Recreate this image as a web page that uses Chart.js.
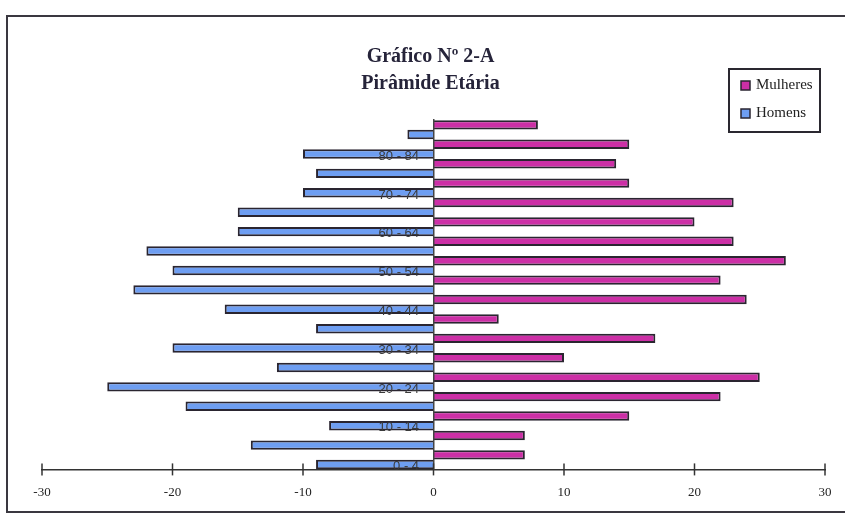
<!DOCTYPE html>
<html>
<head>
<meta charset="utf-8">
<title>Pirâmide Etária</title>
<script src="https://cdn.jsdelivr.net/npm/chart.js@4.4.1/dist/chart.umd.min.js"></script>
<style>
    body { margin: 0; background: #fff; }
    #wrap { width: 845px; height: 515px; }
</style>
</head>
<body>
<div id="wrap"><canvas id="pyramidChart"></canvas></div>
<script>
const ageGroups = [
    "0 - 4", "5 - 9", "10 - 14", "15 - 19", "20 - 24", "25 - 29",
    "30 - 34", "35 - 39", "40 - 44", "45 - 49", "50 - 54", "55 - 59",
    "60 - 64", "65 - 69", "70 - 74", "75 - 79", "80 - 84", "85 +"
];

const mulheres = [7, 7, 15, 22, 25, 10, 17, 5, 24, 22, 27, 23, 20, 23, 15, 14, 15, 8];

const homens = [-9, -14, -8, -19, -25, -12, -20, -9, -16, -23, -20, -22, -15, -15, -10, -9, -10, -2];

const xTicks = [-30, -20, -10, 0, 10, 20, 30];

const serif = "'Liberation Serif', 'DejaVu Serif', serif";

// outer frame, crossing tick marks and the boxed legend
const decor = {
    id: "decor",
    beforeDraw(chart) {
        const c = chart.ctx;
        c.save();
        c.fillStyle = "#fff";
        c.fillRect(0, 0, chart.width, chart.height);
        c.strokeStyle = "#3a3840";
        c.lineWidth = 2;
        c.beginPath();
        c.moveTo(850, 16);
        c.lineTo(7, 16);
        c.lineTo(7, 512);
        c.lineTo(850, 512);
        c.stroke();
        c.restore();
    },
    afterDraw(chart) {
        const c = chart.ctx;
        const xs = chart.scales.x;
        const bottom = chart.chartArea.bottom;
        c.save();
        c.strokeStyle = "#333";
        c.lineWidth = 1.5;
        xTicks.forEach(v => {
            const px = xs.getPixelForValue(v);
            c.beginPath();
            c.moveTo(px, bottom - 6);
            c.lineTo(px, bottom + 6);
            c.stroke();
        });

        // legend
        c.lineWidth = 2;
        c.strokeStyle = "#2a2830";
        c.strokeRect(729, 69, 91, 63);
        c.font = "15px " + serif;
        c.textBaseline = "middle";
        chart.data.datasets.forEach((ds, i) => {
            const y = 85 + i * 28;
            c.fillStyle = ds.backgroundColor;
            c.fillRect(741, y - 4, 9, 9);
            c.lineWidth = 1.5;
            c.strokeStyle = "#2a2530";
            c.strokeRect(741, y - 4, 9, 9);
            c.fillStyle = "#222";
            c.fillText(ds.label, 756, y);
        });
        c.restore();
    }
};

const ctx = document.getElementById("pyramidChart");

new Chart(ctx, {
    type: "bar",
    data: {
        labels: ageGroups,
        datasets: [
            {
                label: "Mulheres",
                data: mulheres,
                backgroundColor: "#cc2fa6",
                borderColor: "#2a2530",
                borderWidth: 2,
                barPercentage: 0.97,
                categoryPercentage: 1
            },
            {
                label: "Homens",
                data: homens,
                backgroundColor: "#6e9ef2",
                borderColor: "#2a2530",
                borderWidth: 2,
                barPercentage: 0.97,
                categoryPercentage: 1
            }
        ]
    },
    options: {
        indexAxis: "y",
        responsive: true,
        maintainAspectRatio: false,
        animation: false,
        layout: {
            padding: { left: 16, right: 0, top: 0, bottom: 0 }
        },
        plugins: {
            legend: { display: false },
            tooltip: { enabled: false },
            title: {
                display: true,
                text: ["Gráfico Nº 2-A", "Pirâmide Etária"],
                color: "#26243a",
                font: { family: serif, size: 20, weight: "bold", lineHeight: 1.35 },
                padding: { top: 43, bottom: 23 }
            }
        },
        scales: {
            x: {
                min: -30,
                max: 30,
                grid: { display: false, drawTicks: false },
                border: { display: true, color: "#333", width: 1.5 },
                ticks: {
                    stepSize: 10,
                    padding: 15,
                    color: "#222",
                    font: { family: serif, size: 13 }
                },
                afterFit: function (scale) {
                    scale.paddingLeft = 42;
                    scale.paddingRight = 20;
                }
            },
            y: {
                position: { x: 0 },
                reverse: true,
                grid: { display: false },
                border: { display: true, color: "#444", width: 1.5, z: 1 },
                ticks: {
                    z: 1,
                    autoSkip: false,
                    padding: 14,
                    labelOffset: 7,
                    color: "#3a3a3a",
                    font: { family: "'Liberation Sans', Arial, sans-serif", size: 13 },
                    // only every other age group is labelled; trailing spaces keep it off the axis
                    callback: function (value, index) {
                        return index % 2 === 0 ? this.getLabelForValue(value) + "    " : "";
                    }
                }
            }
        }
    },
    plugins: [decor]
});
</script>
</body>
</html>
